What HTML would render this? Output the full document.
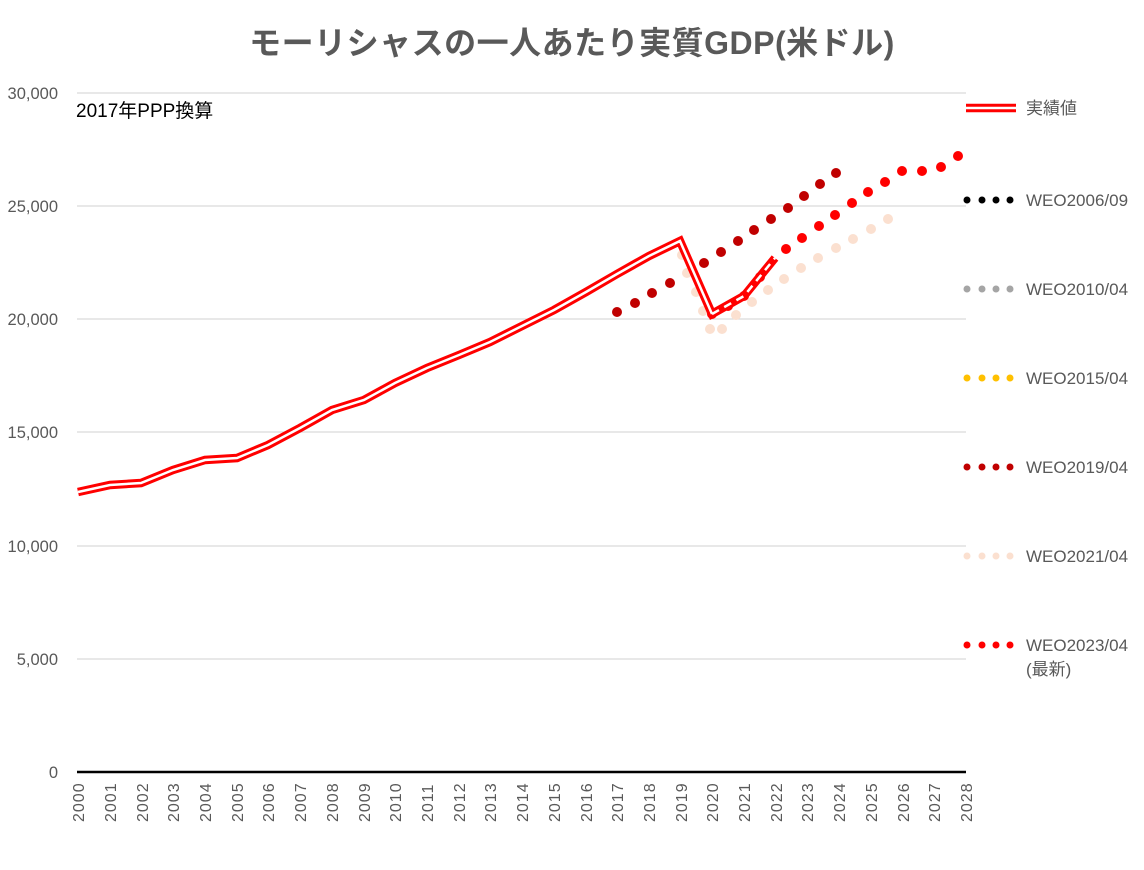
<!DOCTYPE html>
<html><head><meta charset="utf-8"><style>
body{margin:0;background:#fff;}
svg text{font-family:"Liberation Sans","Noto Sans CJK JP",sans-serif;}
</style></head><body>
<svg width="1144" height="865" xmlns="http://www.w3.org/2000/svg">
<text x="572" y="54" text-anchor="middle" font-size="32" font-weight="bold" fill="#595959" letter-spacing="0.5">モーリシャスの一人あたり実質GDP(米ドル)</text>
<g stroke="#d9d9d9" stroke-width="1.3">
<line x1="77" y1="93" x2="966" y2="93"/><line x1="77" y1="206" x2="966" y2="206"/><line x1="77" y1="319" x2="966" y2="319"/><line x1="77" y1="432" x2="966" y2="432"/><line x1="77" y1="546" x2="966" y2="546"/><line x1="77" y1="659" x2="966" y2="659"/>
</g>
<g font-size="16.5" fill="#595959" text-anchor="end">
<text x="58" y="99">30,000</text><text x="58" y="212">25,000</text><text x="58" y="325">20,000</text><text x="58" y="438">15,000</text><text x="58" y="552">10,000</text><text x="58" y="665">5,000</text><text x="58" y="778">0</text>
</g>
<text x="76" y="117" font-size="19" fill="#000">2017年PPP換算</text>
<line x1="77" y1="772" x2="966" y2="772" stroke="#000" stroke-width="2.5"/>
<g fill="#fbe0d0">
<circle cx="682" cy="255" r="5"/><circle cx="687" cy="273" r="5"/><circle cx="696" cy="292" r="5"/><circle cx="703" cy="311" r="5"/><circle cx="710" cy="329" r="5"/><circle cx="722" cy="329" r="5"/><circle cx="736" cy="315" r="5"/><circle cx="752" cy="302" r="5"/><circle cx="768" cy="290" r="5"/><circle cx="784" cy="279" r="5"/><circle cx="801" cy="268" r="5"/><circle cx="818" cy="258" r="5"/><circle cx="836" cy="248" r="5"/><circle cx="853" cy="239" r="5"/><circle cx="871" cy="229" r="5"/><circle cx="888" cy="219" r="5"/>
</g>
<g fill="#c00000">
<circle cx="617" cy="312" r="5"/><circle cx="635" cy="303" r="5"/><circle cx="652" cy="293" r="5"/><circle cx="670" cy="283" r="5"/><circle cx="704" cy="263" r="5"/><circle cx="721" cy="252" r="5"/><circle cx="738" cy="241" r="5"/><circle cx="754" cy="230" r="5"/><circle cx="771" cy="219" r="5"/><circle cx="788" cy="208" r="5"/><circle cx="804" cy="196" r="5"/><circle cx="820" cy="184" r="5"/><circle cx="836" cy="173" r="5"/>
</g>
<g fill="#ff0000">
<circle cx="712" cy="314" r="5"/><circle cx="728" cy="306" r="5"/><circle cx="744" cy="296" r="5"/><circle cx="760" cy="277" r="5"/><circle cx="786" cy="249" r="5"/><circle cx="802" cy="238" r="5"/><circle cx="819" cy="226" r="5"/><circle cx="835" cy="215" r="5"/><circle cx="852" cy="203" r="5"/><circle cx="868" cy="192" r="5"/><circle cx="885" cy="182" r="5"/><circle cx="902" cy="171" r="5"/><circle cx="922" cy="171" r="5"/><circle cx="941" cy="167" r="5"/><circle cx="958" cy="156" r="5"/>
</g>
<polyline fill="none" stroke="#ff0000" stroke-width="8.5" stroke-linejoin="miter" points="78,492 110,485 141,483 173,470 205,460 237,458 268,445 300,428 332,410 364,400 395,383 427,368 459,355 490,342 522,326 554,310 586,292 617,274 649,256 680,241 712,314 744,296 775,258"/>
<polyline fill="none" stroke="#fff" stroke-width="2.5" points="78,492 110,485 141,483 173,470 205,460 237,458 268,445 300,428 332,410 364,400 395,383 427,368 459,355 490,342 522,326 554,310 586,292 617,274 649,256 680,241 712,314"/>
<polyline fill="none" stroke="#fff" stroke-width="2.5" stroke-dasharray="8,6" points="712,314 744,296 775,258"/>
<line x1="966" y1="108" x2="1016" y2="108" stroke="#ff0000" stroke-width="8.5"/>
<line x1="966" y1="108" x2="1016" y2="108" stroke="#fff" stroke-width="2.5"/>
<g font-size="17" fill="#595959">
<text x="1026" y="114">実績値</text>
<text x="1026" y="206">WEO2006/09</text>
<text x="1026" y="295">WEO2010/04</text>
<text x="1026" y="384">WEO2015/04</text>
<text x="1026" y="473">WEO2019/04</text>
<text x="1026" y="562">WEO2021/04</text>
<text x="1026" y="651">WEO2023/04</text>
<text x="1026" y="675">(最新)</text>
</g>
<g fill="#000"><circle cx="967" cy="200" r="3.5"/><circle cx="982" cy="200" r="3.5"/><circle cx="996" cy="200" r="3.5"/><circle cx="1010" cy="200" r="3.5"/></g>
<g fill="#a5a5a5"><circle cx="967" cy="289" r="3.5"/><circle cx="982" cy="289" r="3.5"/><circle cx="996" cy="289" r="3.5"/><circle cx="1010" cy="289" r="3.5"/></g>
<g fill="#ffc000"><circle cx="967" cy="378" r="3.5"/><circle cx="982" cy="378" r="3.5"/><circle cx="996" cy="378" r="3.5"/><circle cx="1010" cy="378" r="3.5"/></g>
<g fill="#c00000"><circle cx="967" cy="467" r="3.5"/><circle cx="982" cy="467" r="3.5"/><circle cx="996" cy="467" r="3.5"/><circle cx="1010" cy="467" r="3.5"/></g>
<g fill="#fbe0d0"><circle cx="967" cy="556" r="3.5"/><circle cx="982" cy="556" r="3.5"/><circle cx="996" cy="556" r="3.5"/><circle cx="1010" cy="556" r="3.5"/></g>
<g fill="#ff0000"><circle cx="967" cy="645" r="3.5"/><circle cx="982" cy="645" r="3.5"/><circle cx="996" cy="645" r="3.5"/><circle cx="1010" cy="645" r="3.5"/></g>
<g font-size="16" fill="#595959" letter-spacing="1">
<text transform="translate(84,822) rotate(-90)">2000</text>
<text transform="translate(116,822) rotate(-90)">2001</text>
<text transform="translate(148,822) rotate(-90)">2002</text>
<text transform="translate(179,822) rotate(-90)">2003</text>
<text transform="translate(211,822) rotate(-90)">2004</text>
<text transform="translate(243,822) rotate(-90)">2005</text>
<text transform="translate(274,822) rotate(-90)">2006</text>
<text transform="translate(306,822) rotate(-90)">2007</text>
<text transform="translate(338,822) rotate(-90)">2008</text>
<text transform="translate(370,822) rotate(-90)">2009</text>
<text transform="translate(401,822) rotate(-90)">2010</text>
<text transform="translate(433,822) rotate(-90)">2011</text>
<text transform="translate(465,822) rotate(-90)">2012</text>
<text transform="translate(496,822) rotate(-90)">2013</text>
<text transform="translate(528,822) rotate(-90)">2014</text>
<text transform="translate(560,822) rotate(-90)">2015</text>
<text transform="translate(592,822) rotate(-90)">2016</text>
<text transform="translate(623,822) rotate(-90)">2017</text>
<text transform="translate(655,822) rotate(-90)">2018</text>
<text transform="translate(687,822) rotate(-90)">2019</text>
<text transform="translate(718,822) rotate(-90)">2020</text>
<text transform="translate(750,822) rotate(-90)">2021</text>
<text transform="translate(782,822) rotate(-90)">2022</text>
<text transform="translate(813,822) rotate(-90)">2023</text>
<text transform="translate(845,822) rotate(-90)">2024</text>
<text transform="translate(877,822) rotate(-90)">2025</text>
<text transform="translate(909,822) rotate(-90)">2026</text>
<text transform="translate(940,822) rotate(-90)">2027</text>
<text transform="translate(972,822) rotate(-90)">2028</text>
</g>
</svg>
</body></html>
